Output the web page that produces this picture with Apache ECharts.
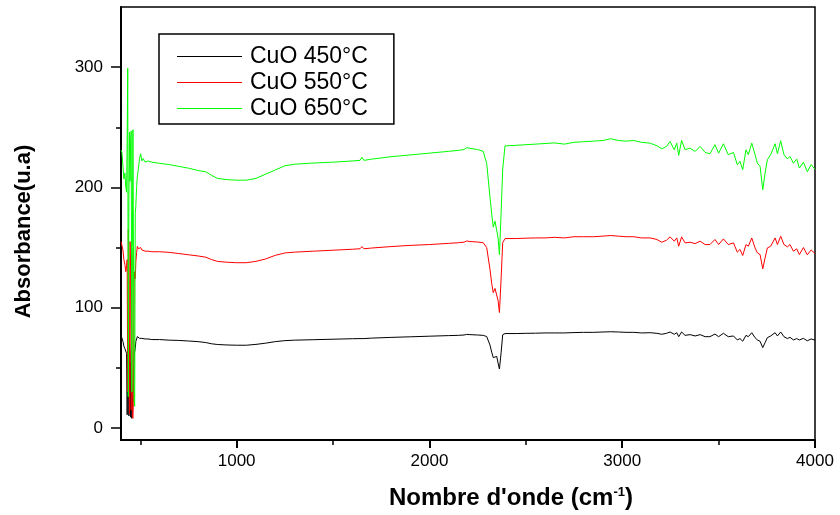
<!DOCTYPE html>
<html>
<head>
<meta charset="utf-8">
<script src="https://cdn.jsdelivr.net/npm/echarts@6/dist/echarts.min.js"></script>
<style>
  html, body { margin: 0; padding: 0; background: #fff; }
  #chart { width: 840px; height: 515px; }
</style>
</head>
<body>
<div id="chart"></div>
<script>
// shared wavenumber grid (cm-1)
const wavenumbers = [
  400, 405, 410, 415, 420, 425, 429, 432, 435, 438, 441, 444, 447, 450, 453, 456, 459, 462, 465, 468,
  471, 474, 477, 481, 485, 490, 496, 502, 508, 515, 525, 540, 560,
  600, 650, 700, 750, 800, 840, 870, 900, 950, 1000, 1050, 1100, 1150, 1200, 1250, 1300, 1400, 1500,
  1600, 1640, 1650, 1660, 1700, 1800, 1900, 2000, 2100, 2150, 2180, 2193, 2210, 2250, 2279, 2297,
  2314, 2323, 2331, 2340, 2349, 2356, 2363, 2372, 2380, 2392,
  2450, 2500, 2550, 2600, 2650, 2700, 2750, 2800, 2850, 2900, 2940, 2980, 3020, 3060, 3100,
  3145, 3180, 3205, 3230, 3248, 3270, 3283, 3293, 3308, 3326, 3352, 3378, 3404, 3430, 3455, 3481,
  3500, 3525, 3550, 3577, 3597, 3611, 3625, 3642, 3654, 3672, 3689, 3701, 3715, 3729, 3741, 3753,
  3770, 3793, 3805, 3822, 3839, 3857, 3870, 3888, 3905, 3919, 3940, 3960, 3980, 4000
];

const cuo450 = [
  77, 77, 72, 68, 66, 65, 62, 11, 68, 82, 10, 70, 62, 9, 55, 8, 7, 7, 40, 61,
  60, 66, 72, 74, 76, 75, 74.5, 75, 74.5, 74, 74, 74, 73.5,
  73.5, 73, 72.8, 72.3, 71.8, 71, 70, 69.4, 69, 68.8, 68.8, 69.5, 70.5, 71.8, 72.6, 73, 73.4, 73.8,
  74.2, 74.3, 75.3, 74.3, 74.7, 75.3, 75.8, 76.3, 76.8, 77, 77.3, 77.8, 77.6, 77.3, 77, 76,
  69, 63, 58.5, 57, 59.5, 54, 49, 63, 77.5, 78.5,
  78.5, 78.7, 78.8, 79, 79, 79, 79.3, 79.5, 79.5, 79.8, 80, 79.8, 79.5, 79.5, 79,
  79.2, 78.7, 77.9, 78.7, 79.8, 77.9, 79.2, 75.9, 79.8, 77, 77.6, 76.5, 77.6, 75.9, 75.9, 78.1,
  75.9, 78.7, 75.9, 76.5, 73.2, 74.3, 72.1, 77, 75.9, 79.2, 75.1, 73.2, 72.1, 66.8, 70.9, 75.1,
  76.5, 79.2, 76.5, 79.8, 75.9, 74.3, 75.4, 73.2, 74.3, 73.2, 74.5, 72.5, 74, 73
];

const cuo550 = [
  155, 154, 148, 140, 136, 130, 135, 140, 30, 165, 125, 12, 155, 132, 15, 145, 10, 8, 25, 121,
  130, 124, 138, 146, 151, 149, 148, 150, 148, 148, 147, 147, 146.5,
  146.5, 146, 145, 144, 143, 142, 140, 138.5, 137.8, 137.4, 137.4, 138.5, 140.5, 143.5, 145.5, 146.2, 147, 147.8,
  148.6, 149, 150.8, 149, 149.6, 150.8, 151.8, 152.5, 153.5, 154, 154.5, 155.5, 155, 154.6, 154, 150,
  132, 120, 112.5, 116, 117, 106, 96, 125, 154, 157.5,
  157.5, 157.8, 158, 158, 158.5, 158, 159, 159, 159, 159.5, 160, 159.5, 159, 159, 158,
  158, 156.7, 154.4, 156.1, 158.9, 155.3, 158, 151.1, 158.9, 153.9, 154.4, 153.3, 155.3, 152.5, 152.5, 156.7,
  152.5, 157.2, 152.5, 153.9, 146.2, 148.4, 143.4, 152.5, 151.1, 158, 149.7, 145.6, 144.2, 132.3, 141.4, 149.7,
  151.1, 158, 152.5, 159.4, 152.5, 150.6, 152.5, 147, 148.9, 144.2, 150, 144, 148, 145
];

const cuo650 = [
  231, 229, 218, 207, 212, 200, 196, 240, 299, 26, 190, 246, 205, 240, 247, 30, 150, 248, 130, 22,
  18, 178, 185, 200, 210, 215, 224, 228, 222, 224, 221, 222, 221,
  220, 219, 217.5, 216, 214, 213, 210, 207.5, 206.5, 206, 206, 207.5, 211, 214.5, 218, 219.3, 220.3, 221,
  222, 222.5, 225, 222.5, 223.5, 225.5, 227, 228.5, 230, 230.8, 231.5, 233, 232.5, 231.5, 230, 220,
  192, 178, 167, 172, 173, 158, 144, 180, 215, 234.5,
  235, 235.5, 236, 236.5, 237, 236, 237.5, 238, 238.5, 239, 240.5, 239, 238.5, 239, 237.5,
  236.8, 234.6, 232.1, 234.1, 238.2, 231.3, 236.8, 226.6, 239.1, 231.3, 232.7, 229.9, 234.1, 229.1, 228, 235.5,
  228.5, 236.3, 227.2, 229.1, 218.9, 221.6, 214.7, 231.3, 227.2, 236.8, 227.2, 220.2, 217.5, 198.1, 212, 223,
  227.2, 236.3, 228, 238.8, 227.2, 223.6, 225.8, 220.2, 223.6, 216.1, 221, 213, 219, 215
];

const seriesNames = ['CuO 450°C', 'CuO 550°C', 'CuO 650°C'];
const seriesColors = ['#000000', '#ff0000', '#00ff00'];
const majorX = [1000, 2000, 3000, 4000];
const minorX = [500, 1500, 2500, 3500];
const majorY = [0, 100, 200, 300];
const minorY = [50, 150, 250];

const font = "'Liberation Sans', Arial, Helvetica, sans-serif";
const spectra = [cuo450, cuo550, cuo650];

const chart = echarts.init(document.getElementById('chart'), null, { renderer: 'canvas' });

chart.setOption({
  animation: false,
  backgroundColor: '#fff',
  grid: {
    left: 121, right: 25, top: 7, bottom: 74,
    show: true, borderColor: '#000', borderWidth: 1.5
  },
  legend: {
    orient: 'vertical',
    left: 159, top: 34,
    padding: [11, 26, 4, 18],
    icon: 'rect',
    itemWidth: 65, itemHeight: 1.2, itemGap: 3,
    borderColor: '#000', borderWidth: 1.5,
    backgroundColor: '#fff',
    data: seriesNames,
    textStyle: { fontSize: 23, lineHeight: 23, color: '#000', fontFamily: font, padding: [0, 0, 0, 3] }
  },
  xAxis: [
    {
      type: 'value', min: 400, max: 4000, position: 'bottom',
      name: "{t|Nombre d'onde (cm}{s|-1}{t|)}",
      nameLocation: 'middle', nameGap: 46,
      nameTextStyle: {
        padding: [0, 0, 0, 86],
        rich: {
          t: { fontSize: 24, fontWeight: 'bold', fontFamily: font, color: '#000' },
          s: { fontSize: 13, fontWeight: 'bold', fontFamily: font, color: '#000', verticalAlign: 'top' }
        }
      },
      axisLine: { show: true, onZero: false, lineStyle: { color: '#000', width: 2 } },
      axisTick: { show: true, inside: false, length: 8, customValues: majorX, lineStyle: { color: '#000', width: 2 } },
      axisLabel: { customValues: majorX, formatter: v => String(v), margin: 13, fontSize: 17, color: '#000', fontFamily: font },
      splitLine: { show: false }
    },
    {
      type: 'value', min: 400, max: 4000, position: 'bottom',
      axisLine: { show: false, onZero: false },
      axisTick: { show: true, inside: false, length: 5, customValues: minorX, lineStyle: { color: '#000', width: 1.5 } },
      axisLabel: { show: false },
      splitLine: { show: false }
    }
  ],
  yAxis: [
    {
      type: 'value', min: -10, max: 350, position: 'left',
      name: 'Absorbance(u.a)',
      nameLocation: 'middle', nameGap: 86,
      nameTextStyle: { fontSize: 22, fontWeight: 'bold', fontFamily: font, color: '#000', padding: [0, 16, 0, 0] },
      axisLine: { show: true, onZero: false, lineStyle: { color: '#000', width: 2 } },
      axisTick: { show: true, inside: false, length: 10, customValues: majorY, lineStyle: { color: '#000', width: 1.5 } },
      axisLabel: { customValues: majorY, formatter: v => String(v), margin: 18, fontSize: 17, color: '#000', fontFamily: font },
      splitLine: { show: false }
    },
    {
      type: 'value', min: -10, max: 350, position: 'left',
      axisLine: { show: false, onZero: false },
      axisTick: { show: true, inside: false, length: 5, customValues: minorY, lineStyle: { color: '#000', width: 1.5 } },
      axisLabel: { show: false },
      splitLine: { show: false }
    }
  ],
  series: seriesNames.map((name, k) => ({
    name: name,
    type: 'line',
    xAxisIndex: 0,
    yAxisIndex: 0,
    symbol: 'none',
    color: seriesColors[k],
    lineStyle: { color: seriesColors[k], width: 1 },
    data: wavenumbers.map((w, i) => [w, spectra[k][i]])
  }))
});
</script>
</body>
</html>
